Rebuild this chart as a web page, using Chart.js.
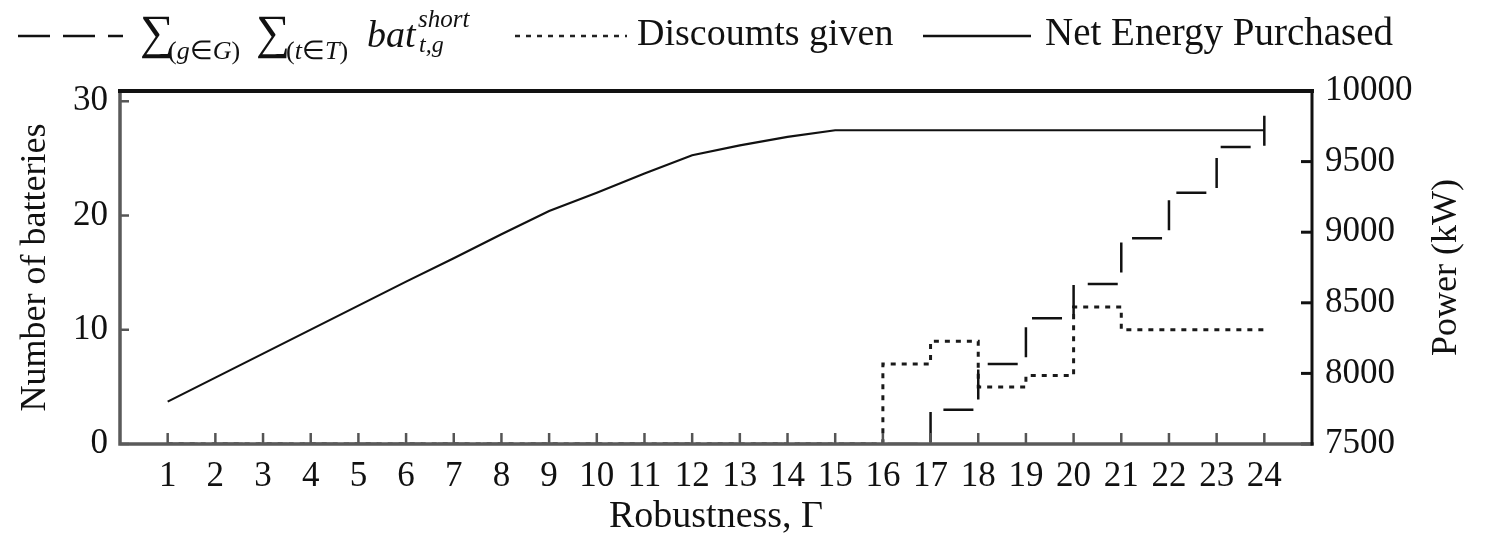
<!DOCTYPE html>
<html>
<head>
<meta charset="utf-8">
<style>
  body { margin: 0; background: #fff; }
  #wrap { position: relative; width: 1488px; height: 540px; }
  #legend { position: absolute; left: 0; top: 0; width: 1488px; height: 80px; color: #111; font-family: "Liberation Serif", serif; }
  #legend span { position: absolute; line-height: 1; white-space: nowrap; }
  canvas { position: absolute; left: 0; top: 0; }
</style>
</head>
<body>
<div id="wrap">
  <canvas id="chart" width="1488" height="540"></canvas>
  <div id="legend">
    <svg width="1488" height="80" style="position:absolute;left:0;top:0">
      <line x1="18" y1="36" x2="123" y2="36" stroke="#111" stroke-width="2.5" stroke-dasharray="32 13"/>
      <line x1="515" y1="36" x2="627" y2="36" stroke="#222" stroke-width="2.5" stroke-dasharray="5 6"/>
      <line x1="923" y1="36" x2="1031" y2="36" stroke="#111" stroke-width="2.5"/>
    </svg>
  </div>
</div>

<script src="https://cdn.jsdelivr.net/npm/chart.js"></script>
<script>
  // data
  const robustness = [1, 2, 3, 4, 5, 6, 7, 8, 9, 10, 11, 12, 13, 14, 15, 16, 17, 18, 19, 20, 21, 22, 23, 24];
  const batteries = [0, 0, 0, 0, 0, 0, 0, 0, 0, 0, 0, 0, 0, 0, 0, 0, 3, 7, 11, 14, 18, 22, 26, 29.3];
  const discounts = [0, 0, 0, 0, 0, 0, 0, 0, 0, 0, 0, 0, 0, 0, 0, 7, 9, 5, 6, 12, 10, 10, 10, 10];
  const netEnergy = [7800, 7970, 8140, 8310, 8480, 8650, 8815, 8985, 9150, 9280, 9415, 9545, 9615, 9675, 9722,
                     9722, 9722, 9722, 9722, 9722, 9722, 9722, 9722, 9722];
  const leftTicks = [0, 10, 20, 30];
  const rightTicks = [7500, 8000, 8500, 9000, 9500, 10000];

  // legend text (real text, with the math set by hand)
  const legend = document.getElementById("legend");
  function place(html, x, base, size, italic) {
    const s = document.createElement("span");
    s.innerHTML = html;
    s.style.left = x + "px";
    s.style.top = (base - 0.8375 * size) + "px";
    s.style.fontSize = size + "px";
    if (italic) s.style.fontStyle = "italic";
    legend.appendChild(s);
  }
  place("\u2211", 140, 48, 48);
  place("(<i>g</i>\u2208<i>G</i>)", 168, 60, 26);
  place("\u2211", 256, 48, 48);
  place("(<i>t</i>\u2208<i>T</i>)", 286, 60, 26);
  place("bat", 367, 47, 38, true);
  place("short", 418, 27, 25, true);
  place("t,g", 419, 52, 24, true);
  place("Discoumts given", 637, 45, 38);
  place("Net Energy Purchased", 1045, 45, 39);

  const serif = "'Liberation Serif', serif";

  const frame = {
    id: "frame",
    afterDatasetsDraw(chart) {
      const { ctx, chartArea: a, scales } = chart;
      ctx.save();
      // inward tick marks
      ctx.strokeStyle = "#555";
      ctx.lineWidth = 2.5;
      robustness.forEach(v => {
        const px = scales.x.getPixelForValue(v);
        ctx.beginPath(); ctx.moveTo(px, a.bottom); ctx.lineTo(px, a.bottom - 11); ctx.stroke();
      });
      leftTicks.forEach(v => {
        const py = scales.yL.getPixelForValue(v);
        ctx.beginPath(); ctx.moveTo(a.left, py); ctx.lineTo(a.left + 9, py); ctx.stroke();
      });
      ctx.strokeStyle = "#111";
      ctx.lineWidth = 3;
      rightTicks.forEach(v => {
        const py = scales.yR.getPixelForValue(v);
        ctx.beginPath(); ctx.moveTo(a.right, py); ctx.lineTo(a.right - 11, py); ctx.stroke();
      });
      // axes / frame
      ctx.lineCap = "square";
      ctx.strokeStyle = "#5a5a5a";
      ctx.lineWidth = 3.5;
      ctx.beginPath(); ctx.moveTo(a.left, a.top); ctx.lineTo(a.left, a.bottom); ctx.lineTo(a.right, a.bottom); ctx.stroke();
      ctx.strokeStyle = "#111";
      ctx.lineWidth = 3;
      ctx.beginPath(); ctx.moveTo(a.right, a.top); ctx.lineTo(a.right, a.bottom); ctx.stroke();
      ctx.lineWidth = 4;
      ctx.beginPath(); ctx.moveTo(a.left, a.top); ctx.lineTo(a.right, a.top); ctx.stroke();
      // right axis title, reading bottom to top
      ctx.fillStyle = "#111";
      ctx.font = "36px " + serif;
      ctx.textAlign = "center";
      ctx.textBaseline = "middle";
      ctx.translate(1447, (a.top + a.bottom) / 2);
      ctx.rotate(-Math.PI / 2);
      ctx.fillText("Power (kW)", 0, 0);
      ctx.restore();
    }
  };

  const clipBottom = { left: 5, right: 5, top: 5, bottom: 0 };

  new Chart(document.getElementById("chart"), {
    type: "line",
    data: {
      labels: robustness,
      datasets: [
        { label: "batteries", data: batteries, yAxisID: "yL", stepped: true, clip: clipBottom,
          borderColor: "#111", borderWidth: 2.5, borderDash: [30, 15], pointRadius: 0, fill: false },
        { label: "Discoumts given", data: discounts, yAxisID: "yL", stepped: true, clip: clipBottom,
          borderColor: "#1a1a1a", borderWidth: 3, borderDash: [5, 6], pointRadius: 0, fill: false },
        { label: "Net Energy Purchased", data: netEnergy, yAxisID: "yR",
          borderColor: "#111", borderWidth: 2.2, pointRadius: 0, tension: 0, fill: false }
      ]
    },
    options: {
      responsive: false,
      animation: false,
      layout: { padding: { top: 91, left: 0, right: 0, bottom: 0 } },
      plugins: { legend: { display: false }, tooltip: { enabled: false } },
      scales: {
        x: {
          type: "linear", min: 0, max: 25,
          afterBuildTicks: s => { s.ticks = robustness.map(v => ({ value: v })); },
          afterFit: s => { s.height = 96; },
          grid: { display: false, drawTicks: false },
          border: { display: false },
          ticks: { color: "#111", font: { family: serif, size: 35 }, padding: 12, maxRotation: 0, autoSkip: false },
          title: { display: true, text: "Robustness, \u0393", color: "#111", font: { family: serif, size: 38 }, padding: { top: 0, bottom: 0 } }
        },
        yL: {
          position: "left", min: 0, max: 30.9,
          afterBuildTicks: s => { s.ticks = leftTicks.map(v => ({ value: v })); },
          afterFit: s => { s.width = 120; },
          grid: { display: false, drawTicks: false },
          border: { display: false },
          ticks: { color: "#111", font: { family: serif, size: 35 }, padding: 12 },
          title: { display: true, text: "Number of batteries", color: "#111", font: { family: serif, size: 36 }, padding: { top: 14, bottom: 0 } }
        },
        yR: {
          position: "right", min: 7500, max: 10000,
          afterBuildTicks: s => { s.ticks = rightTicks.map(v => ({ value: v })); },
          afterFit: s => { s.width = 176; },
          grid: { display: false, drawTicks: false },
          border: { display: false },
          ticks: { color: "#111", font: { family: serif, size: 35 }, padding: 13, callback: v => String(v) }
        }
      }
    },
    plugins: [frame]
  });
</script>
</body>
</html>
